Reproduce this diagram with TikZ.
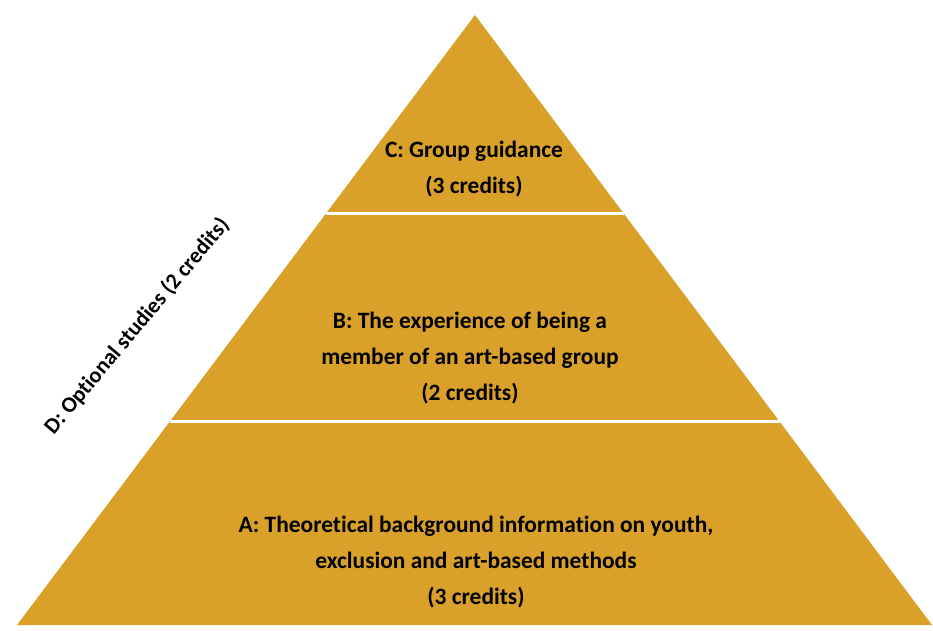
\documentclass[tikz,border=0pt]{standalone}
\usepackage{fontspec}
\setmainfont{Carlito}[Ligatures=NoCommon]
\usetikzlibrary{calc}
\definecolor{tiergold}{RGB}{218,161,42}
\tikzset{
  tiertext/.style={align=center,font=\bfseries\fontsize{20}{31}\selectfont,inner sep=0pt},
  gap/.style={draw=white,line width=2.6pt}
}

\begin{document}
\begin{tikzpicture}[x=0.03cm,y=-0.03cm]
\useasboundingbox (0,0) rectangle (933,630);
% pyramid corners
\coordinate (T) at (475,15);
\coordinate (L) at (17,625);
\coordinate (R) at (932,625);
\fill[tiergold] (T)--(L)--(R)--cycle;
% white gaps between the tiers
\draw[gap] ($(T)!0.326!(L)$)--($(T)!0.326!(R)$);
\draw[gap] ($(T)!0.6664!(L)$)--($(T)!0.6664!(R)$);
% tier labels
\node[tiertext] (c) at (474,169) {C: Group guidance\\(3 credits)};
\node[tiertext] (b) at (470,358) {B: The experience of being a\\member of an art-based group\\(2 credits)};
\node[tiertext] (a) at (476,562) {A: Theoretical background information on youth,\\exclusion and art-based methods\\(3 credits)};
\node[tiertext,font=\bfseries\fontsize{19}{24}\selectfont,rotate=50] (d) at (137,326) {D: Optional studies (2 credits)};
\end{tikzpicture}
\end{document}
